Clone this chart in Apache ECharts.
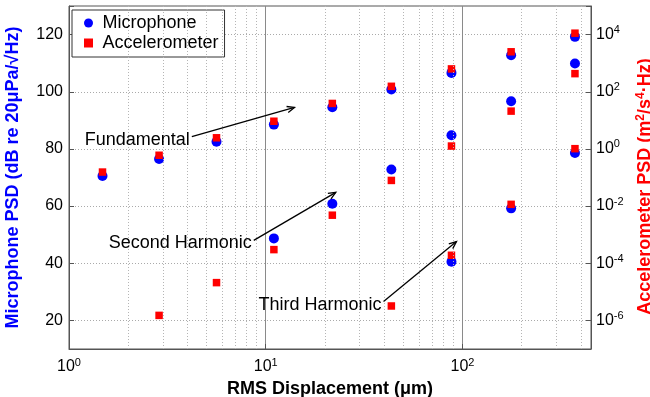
<!DOCTYPE html>
<html><head><meta charset="utf-8">
<script src="https://cdn.jsdelivr.net/npm/echarts@6/dist/echarts.min.js"></script>
<style>html,body{margin:0;padding:0;background:#fff}#c{width:650px;height:397px}</style>
</head><body><div id="c"></div>
<script>
// RMS displacement (µm)
const displacement = [1.48, 2.87, 5.62, 11.0, 21.8, 43.5, 87.9, 176.7, 373];
// Microphone PSD (dB re 20 µPa/√Hz)
const micFundamental = [70.5, 76.5, 82.5, 88.5, 94.6, 100.8, 106.6, 112.8, 119.2];
const micSecond      = [null, null, null, 48.7, 60.8, 72.8, 84.8, 96.7, 109.9];
const micThird       = [null, null, null, null, null, null, 40.5, 59.2, 78.6];
// Accelerometer PSD (m^2/s^4·Hz)
const accFundamental = [0.155, 0.60, 2.45, 9.3, 39, 155, 630, 2500, 11200];
const accSecond      = [null, 1.5e-6, 2.1e-5, 3.0e-4, 4.8e-3, 0.079, 1.26, 21, 430];
const accThird       = [null, null, null, null, null, 3.2e-6, 1.9e-4, 0.0115, 1.02];
// right-axis tick labels (exponents of 10), aligned with left ticks 20..120
const accTickExponents = [-6, -4, -2, 0, 2, 4];
const micTicks = [20, 40, 60, 80, 100, 120];
// minor x grid positions
const xMinorGrid = [2,3,4,5,6,7,8,9,20,30,40,50,60,70,80,90,200,300,400];
// annotations: [label, arrow start x, y(dB), arrow end x, y(dB)]
const annotations = [
  ['Fundamental',     4.21, 84.3, 14.0, 94.5],
  ['Second Harmonic', 8.69, 48.0, 22.7, 64.8],
  ['Third Harmonic',  39.7, 26.6, 93.2, 47.6]
];

function pairs(ys){ const out=[]; ys.forEach((y,i)=>{ if(y!==null) out.push([displacement[i], y]); }); return out; }

const FONT = 'Liberation Sans';
const chart = echarts.init(document.getElementById('c'), null, {renderer:'canvas'});
const micStyle = {type:'scatter', name:'Microphone', symbol:'circle', symbolSize:10, itemStyle:{color:'#0000ff', opacity:1}, yAxisIndex:0, xAxisIndex:0, z:3};
const accStyle = {type:'scatter', name:'Accelerometer', symbol:'rect', symbolSize:7.5, itemStyle:{color:'#ff0000', opacity:1}, yAxisIndex:1, xAxisIndex:0, z:4};

const supRich = {sup:{fontSize:11, verticalAlign:'top', padding:[0,0,9,0], color:'#000', fontFamily:FONT}};

chart.setOption({
  animation:false,
  textStyle:{fontFamily:FONT},
  grid:{left:69, right:59, top:6, bottom:48, containLabel:false, outerBoundsMode:'none',
        show:true, borderColor:'#555', borderWidth:1, backgroundColor:'transparent'},
  legend:{
    data:[{name:'Microphone', icon:'circle'},{name:'Accelerometer', icon:'path://M0,0h10v10h-10z'}],
    orient:'vertical', left:72, top:10, itemWidth:18, itemHeight:9, itemGap:2,
    padding:[4,6,5,12], borderColor:'#333', borderWidth:1, backgroundColor:'#fff',
    textStyle:{fontSize:18, color:'#000', fontFamily:FONT}
  },
  xAxis:{
    type:'log', logBase:10, min:1, max:450,
    name:'RMS Displacement (\u03bcm)', nameLocation:'middle', nameGap:27,
    nameTextStyle:{fontSize:18, fontWeight:'bold', color:'#000', fontFamily:FONT},
    axisLine:{show:true, lineStyle:{color:'#555'}},
    axisTick:{show:true, inside:true, length:5, lineStyle:{color:'#555'}},
    splitLine:{show:true, lineStyle:{color:'#8a8a8a', type:'solid', width:1}},
    axisLabel:{
      margin:8, fontSize:16, color:'#000', fontFamily:FONT, rich:supRich,
      formatter:v=>{ const e=Math.log10(v); return Math.abs(e-Math.round(e))<1e-6 ? '10{sup|'+Math.round(e)+'}' : ''; }
    }
  },
  yAxis:[{
    type:'value', min:10, max:130, splitNumber:6,
    name:'Microphone PSD (dB re 20\u03bcPa/\u221aHz)', nameLocation:'middle', nameGap:47,
    nameTextStyle:{fontSize:18, fontWeight:'bold', color:'#0000ff', fontFamily:FONT},
    axisLine:{show:true, lineStyle:{color:'#555'}},
    axisTick:{show:true, inside:true, length:5, lineStyle:{color:'#555'}},
    splitLine:{show:true, lineStyle:{color:'#aaa', type:[1,2], width:1}},
    axisLabel:{fontSize:16, color:'#000', fontFamily:FONT, margin:6, formatter:v=> micTicks.includes(v) ? String(v) : ''}
  },{
    // data scale for the accelerometer (log), aligned with the dB axis
    type:'log', logBase:10, min:1e-7, max:1e5, show:false
  },{
    // visible right-hand axis: same range as left axis, labelled in PSD decades
    type:'value', min:10, max:130, splitNumber:6, position:'right',
    name:'Accelerometer PSD (m{sup|2}/s{sup|4}\u00b7Hz)', nameLocation:'middle', nameGap:32, nameRotate:90,
    nameTextStyle:{fontSize:18, fontWeight:'bold', color:'#ff0000', fontFamily:FONT, padding:[0,18,0,0],
      rich:{sup:{fontSize:12, fontWeight:'bold', color:'#ff0000', verticalAlign:'top', padding:[0,0,9,0], fontFamily:FONT}}},
    axisLine:{show:true, lineStyle:{color:'#555'}},
    axisTick:{show:true, inside:true, length:5, lineStyle:{color:'#555'}},
    splitLine:{show:false},
    axisLabel:{fontSize:16, color:'#000', fontFamily:FONT, margin:5, rich:supRich,
      formatter:v=>{ const i = micTicks.indexOf(v); return i>=0 ? '10{sup|'+accTickExponents[i]+'}' : ''; }}
  }],
  series:[
    Object.assign({}, micStyle, {data:pairs(micFundamental),
      markLine:{silent:true, symbol:'none', label:{show:false}, animation:false,
        lineStyle:{color:'#b5b5b5', type:[1,2], width:1},
        data:xMinorGrid.map(v=>({xAxis:v}))}}),
    Object.assign({}, micStyle, {data:pairs(micSecond)}),
    Object.assign({}, micStyle, {data:pairs(micThird)}),
    Object.assign({}, accStyle, {data:pairs(accFundamental)}),
    Object.assign({}, accStyle, {data:pairs(accSecond)}),
    Object.assign({}, accStyle, {data:pairs(accThird)})
  ]
});

// annotations placed through the axis scales
const g = [];
annotations.forEach(([label, x0, y0, x1, y1])=>{
  const p0 = chart.convertToPixel({xAxisIndex:0, yAxisIndex:0}, [x0, y0]);
  const p1 = chart.convertToPixel({xAxisIndex:0, yAxisIndex:0}, [x1, y1]);
  const ang = Math.atan2(p1[1]-p0[1], p1[0]-p0[0]);
  const L = 8, a = 0.4;
  const b1 = [p1[0]-L*Math.cos(ang-a), p1[1]-L*Math.sin(ang-a)];
  const b2 = [p1[0]-L*Math.cos(ang+a), p1[1]-L*Math.sin(ang+a)];
  g.push({type:'line', shape:{x1:p0[0], y1:p0[1], x2:p1[0], y2:p1[1]}, style:{stroke:'#000', lineWidth:1.3}, z:10});
  g.push({type:'polyline', shape:{points:[b1, p1, b2]}, style:{stroke:'#000', lineWidth:1.3, fill:null}, z:10});
  g.push({type:'text', x:p0[0]-2, y:p0[1]+3, style:{text:label, fill:'#000', font:'18px '+FONT, align:'right', verticalAlign:'middle'}, z:10});
});
chart.setOption({graphic:g});
</script>
</body></html>
